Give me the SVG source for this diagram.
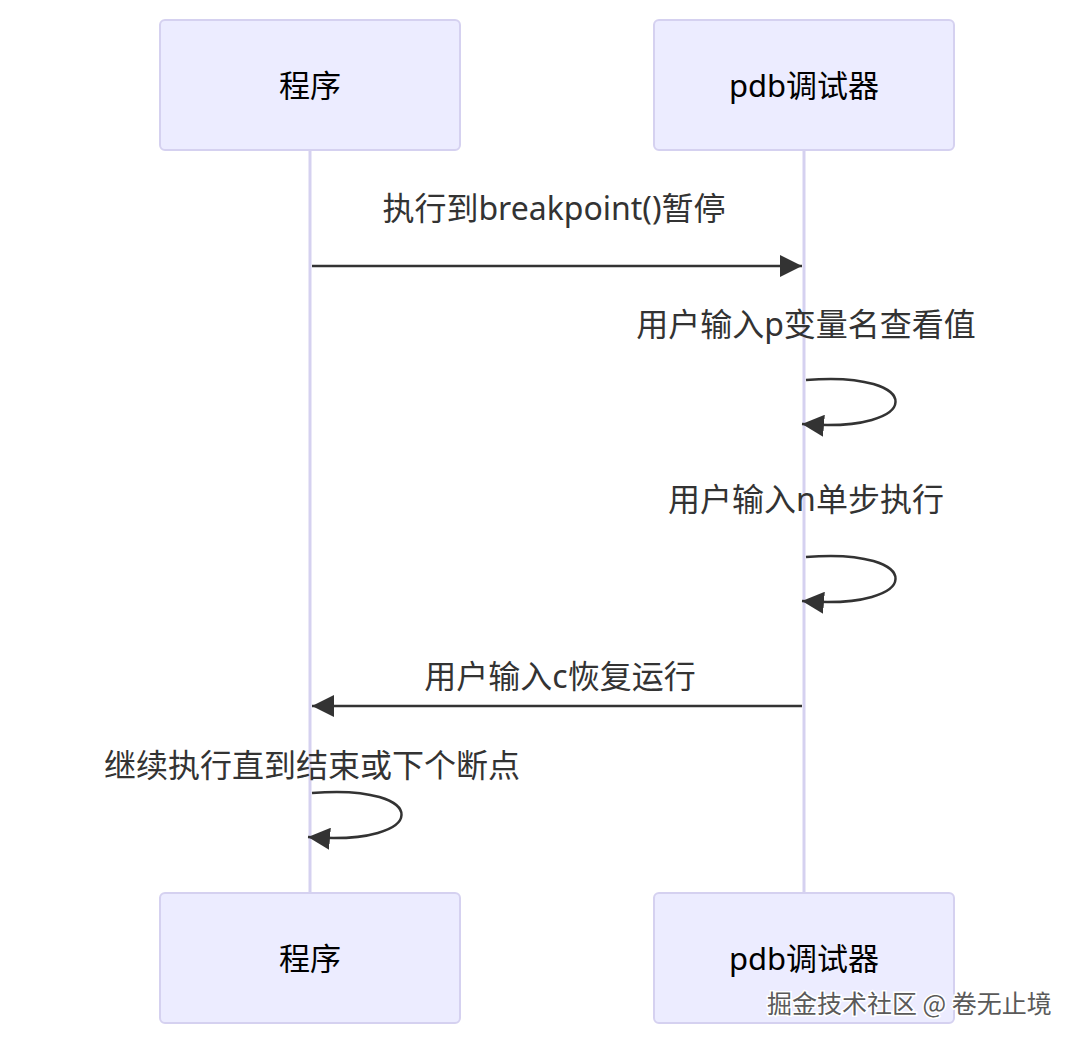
<svg xmlns="http://www.w3.org/2000/svg" width="1079" height="1046" viewBox="0 0 1079 1046">
<style>
.actor{fill:#ECECFF;stroke:#D5D1F0;stroke-width:2}
.actorText{font-family:"Noto Sans","Noto Sans CJK SC",sans-serif;font-size:31px;fill:#000;text-anchor:middle;dominant-baseline:central}
.life{stroke:#D5D1F0;stroke-width:3}
.msg{stroke:#333;stroke-width:2.5;fill:none}
.msgText{font-family:"Noto Sans","Noto Sans CJK SC",sans-serif;font-size:32px;fill:#333;text-anchor:middle;dominant-baseline:central}
.wm{font-family:"Noto Sans CJK SC",sans-serif;font-size:25px;fill:#5a5a5a;stroke:#ffffff;stroke-width:3;paint-order:stroke;text-anchor:start;dominant-baseline:central}
</style>
<defs>
<marker id="arrowBig" viewBox="0 0 20 20" refX="20" refY="10" markerWidth="22" markerHeight="22" markerUnits="userSpaceOnUse" orient="auto">
<path d="M0,0 L20,10 L0,20 z" fill="#333"/>
</marker>
</defs>
<rect width="1079" height="1046" fill="#ffffff"/>
<g id="lifelines">
<line class="life" x1="310" y1="150" x2="310" y2="893"/>
<line class="life" x1="804" y1="150" x2="804" y2="893"/>
</g>
<g id="actor-program-top">
<rect class="actor" x="160" y="20" width="300" height="130" rx="5"/>
<text class="actorText" x="310" y="85">程序</text>
</g>
<g id="actor-pdb-top">
<rect class="actor" x="654" y="20" width="300" height="130" rx="5"/>
<text class="actorText" x="804" y="85">pdb调试器</text>
</g>
<g id="actor-program-bottom">
<rect class="actor" x="160" y="893" width="300" height="130" rx="5"/>
<text class="actorText" x="310" y="958">程序</text>
</g>
<g id="actor-pdb-bottom">
<rect class="actor" x="654" y="893" width="300" height="130" rx="5"/>
<text class="actorText" x="804" y="958">pdb调试器</text>
</g>
<g id="connectors">
<line class="msg" x1="312" y1="266" x2="802" y2="266" marker-end="url(#arrowBig)"/>
<path class="msg" d="M806,380 C926,370 926,434 802,424" marker-end="url(#arrowBig)"/>
<path class="msg" d="M806,557 C926,547 926,611 802,601" marker-end="url(#arrowBig)"/>
<line class="msg" x1="802" y1="706" x2="312" y2="706" marker-end="url(#arrowBig)"/>
<path class="msg" d="M312,793 C432,783 432,847 308,837" marker-end="url(#arrowBig)"/>
</g>
<g id="labels">
<text class="msgText" x="554" y="207">执行到breakpoint()暂停</text>
<text class="msgText" x="806" y="323">用户输入p变量名查看值</text>
<text class="msgText" x="806" y="498">用户输入n单步执行</text>
<text class="msgText" x="560" y="675">用户输入c恢复运行</text>
<text class="msgText" x="312" y="764">继续执行直到结束或下个断点</text>
</g>
<text class="wm" x="767" y="1002">掘金技术社区 @ 卷无止境</text>
</svg>
